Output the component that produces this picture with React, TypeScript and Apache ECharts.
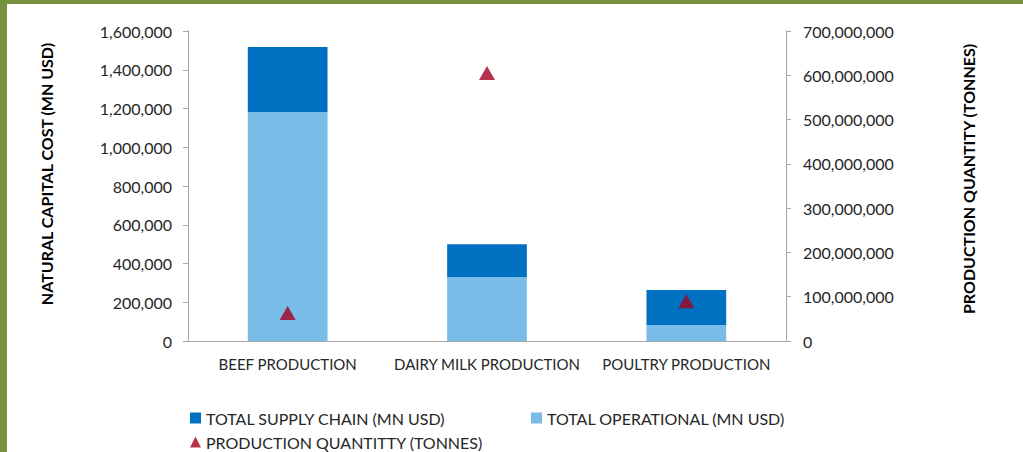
import React, { useEffect, useRef } from "react";
import * as echarts from "echarts";

const categories = ["BEEF PRODUCTION", "DAIRY MILK PRODUCTION", "POULTRY PRODUCTION"];
const operational = [1182000, 330000, 82000];
const supplyChain = [335000, 170000, 181000];
const productionQty = [63000000, 605000000, 90000000];
const leftTicks = { min: 0, max: 1600000, interval: 200000 };
const rightTicks = { min: 0, max: 700000000, interval: 100000000 };
const leftAxisName = "NATURAL CAPITAL COST (MN USD)";
const rightAxisName = "PRODUCTION QUANTITY (TONNES)";

const FONT = "Lato";
const fmt = (v: number) => v.toLocaleString("en-US");

export default function App() {
  const ref = useRef<HTMLDivElement>(null);
  useEffect(() => {
    const chart = echarts.init(ref.current!, null, { renderer: "svg" });
    const axisLineStyle = { color: "#a6a6a6", width: 1 };
    const nameStyle = { fontFamily: FONT, fontSize: 16, fontWeight: "bold", fill: "#000", align: "center", verticalAlign: "middle" };
    chart.setOption({
      animation: false,
      backgroundColor: "#ffffff",
      textStyle: { fontFamily: FONT, color: "#262626" },
      graphic: [
        { type: "rect", shape: { x: 0, y: 0, width: 1023, height: 4 }, style: { fill: "#76923c" } },
        { type: "rect", shape: { x: 0, y: 0, width: 7, height: 452 }, style: { fill: "#76923c" } },
        { type: "text", x: 46, y: 174, rotation: Math.PI / 2, style: { text: leftAxisName, ...nameStyle } },
        { type: "text", x: 968, y: 179, rotation: Math.PI / 2, style: { text: rightAxisName, ...nameStyle } },
      ],
      grid: { left: 188, right: 237, top: 31, bottom: 111, containLabel: false, outerBoundsMode: "none" },
      legend: [
        {
          data: [{ name: "TOTAL SUPPLY CHAIN (MN USD)", icon: "rect" }],
          left: 185, top: 405, itemWidth: 11, itemHeight: 11, itemGap: 6,
          textStyle: { fontFamily: FONT, fontSize: 16, color: "#262626" },
        },
        {
          data: [{ name: "TOTAL OPERATIONAL (MN USD)", icon: "rect" }],
          left: 526, top: 405, itemWidth: 11, itemHeight: 11, itemGap: 6,
          textStyle: { fontFamily: FONT, fontSize: 16, color: "#262626" },
        },
        {
          data: [{ name: "PRODUCTION QUANTITTY (TONNES)", icon: "triangle" }],
          left: 185, top: 429, itemWidth: 11, itemHeight: 11, itemGap: 6,
          textStyle: { fontFamily: FONT, fontSize: 16, color: "#262626" },
        },
      ],
      xAxis: {
        type: "category",
        data: categories,
        axisLine: { lineStyle: axisLineStyle },
        axisTick: { show: false },
        axisLabel: { fontFamily: FONT, fontSize: 15, color: "#262626", margin: 15, interval: 0 },
      },
      yAxis: [
        {
          type: "value",
          ...leftTicks,
          position: "left",
          axisLine: { show: true, lineStyle: axisLineStyle },
          axisTick: { show: true, length: 5, lineStyle: axisLineStyle },
          splitLine: { show: false },
          axisLabel: { fontFamily: FONT, fontSize: 16, color: "#262626", margin: 16, formatter: fmt },
        },
        {
          type: "value",
          ...rightTicks,
          position: "right",
          axisLine: { show: true, lineStyle: axisLineStyle },
          axisTick: { show: true, length: 5, lineStyle: axisLineStyle },
          splitLine: { show: false },
          axisLabel: { fontFamily: FONT, fontSize: 16, color: "#262626", margin: 17, formatter: fmt },
        },
      ],
      series: [
        {
          name: "TOTAL OPERATIONAL (MN USD)",
          type: "bar",
          stack: "cost",
          data: operational,
          barWidth: "40%",
          itemStyle: { color: "#7abce8" },
        },
        {
          name: "TOTAL SUPPLY CHAIN (MN USD)",
          type: "bar",
          stack: "cost",
          data: supplyChain,
          barWidth: "40%",
          itemStyle: { color: "#0070c0" },
        },
        {
          name: "PRODUCTION QUANTITTY (TONNES)",
          type: "scatter",
          yAxisIndex: 1,
          data: productionQty,
          symbol: "triangle",
          symbolSize: [16, 14],
          itemStyle: { color: "#a50021" },
        },
      ],
    });
    return () => chart.dispose();
  }, []);
  return (
    <div
      ref={ref}
      style={{ position: "fixed", left: 0, top: 0, width: 1023, height: 452 }}
    />
  );
}
